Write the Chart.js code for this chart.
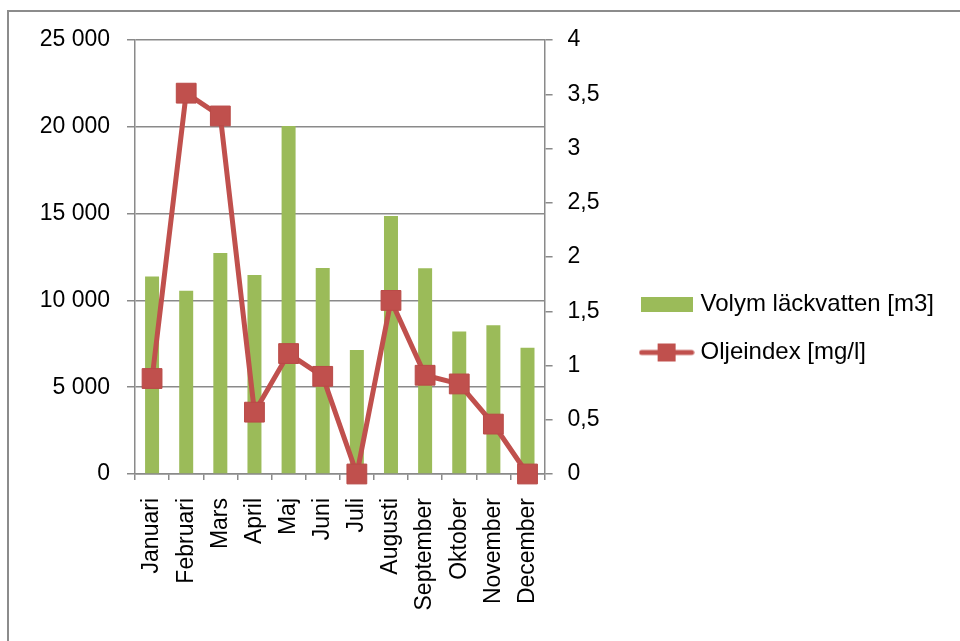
<!DOCTYPE html>
<html>
<head>
<meta charset="utf-8">
<script src="https://cdn.jsdelivr.net/npm/chart.js@4"></script>
<style>
  body { margin: 0; background: #fff; overflow: hidden; }
  .frame { position: absolute; left: 7px; top: 10px; width: 1000px; height: 700px; border: 2px solid #8c8c8c; }
  #chart { position: absolute; left: 0; top: 0; }
</style>
</head>
<body>
<div class="frame"></div>
<canvas id="chart" width="960" height="641"></canvas>
<script>
// månader och mätvärden
const months = ['Januari', 'Februari', 'Mars', 'April', 'Maj', 'Juni', 'Juli', 'Augusti', 'September', 'Oktober', 'November', 'December'];
const volym = [11370, 10560, 12730, 11470, 20050, 11870, 7140, 14860, 11850, 8210, 8570, 7270];
const oljeindex = [0.88, 3.51, 3.30, 0.57, 1.11, 0.90, 0, 1.60, 0.91, 0.83, 0.46, 0];

const green = '#9bbb59';
const red = '#c0504d';
const grey = '#8a8a8a';

Chart.defaults.font.family = "'Liberation Sans', Arial, sans-serif";
Chart.defaults.color = '#000';

// legend-ikoner
function barIcon() {
    const c = document.createElement('canvas');
    c.width = 52; c.height = 15;
    const g = c.getContext('2d');
    g.fillStyle = green;
    g.fillRect(0, 0, 52, 15);
    return c;
}
function lineIcon() {
    const c = document.createElement('canvas');
    c.width = 56; c.height = 20;
    const g = c.getContext('2d');
    g.strokeStyle = red;
    g.lineWidth = 5;
    g.lineCap = 'round';
    g.beginPath(); g.moveTo(3, 10); g.lineTo(53, 10); g.stroke();
    g.fillStyle = red;
    g.fillRect(19, 1, 18, 18);
    return c;
}
const icons = [barIcon(), lineIcon()];

new Chart(document.getElementById('chart'), {
    data: {
        labels: months,
        datasets: [{
            type: 'bar',
            label: 'Volym läckvatten [m3]',
            data: volym,
            backgroundColor: green,
            barPercentage: 0.41,
            categoryPercentage: 1,
            yAxisID: 'y',
            order: 2
        }, {
            type: 'line',
            label: 'Oljeindex [mg/l]',
            data: oljeindex,
            borderColor: red,
            borderWidth: 5,
            pointStyle: 'rect',
            pointRadius: 14,
            pointBackgroundColor: red,
            pointBorderColor: '#b94a47',
            pointBorderWidth: 1,
            tension: 0,
            clip: false,
            yAxisID: 'y1',
            order: 1
        }]
    },
    options: {
        responsive: false,
        animation: false,
        layout: { padding: { top: 40, left: 0, right: 16, bottom: 24 } },
        plugins: {
            tooltip: { enabled: false },
            legend: {
                position: 'right',
                maxWidth: 400,
                labels: {
                    usePointStyle: true,
                    pointStyleWidth: 44,
                    boxHeight: 20,
                    padding: 24,
                    font: { size: 24 },
                    sort: (a, b) => a.datasetIndex - b.datasetIndex,
                    generateLabels(chart) {
                        const items = Chart.defaults.plugins.legend.labels.generateLabels(chart);
                        items.forEach(it => { it.pointStyle = icons[it.datasetIndex]; });
                        return items;
                    }
                }
            }
        },
        scales: {
            x: {
                offset: true,
                grid: { display: true, drawOnChartArea: false, tickLength: 6, color: grey, lineWidth: 1.5 },
                border: { display: true, color: grey, width: 1.5 },
                ticks: { minRotation: 90, maxRotation: 90, padding: 18, font: { size: 23 }, autoSkip: false },
                afterFit(scale) { scale.height = 641 - 24 - 474; }
            },
            y: {
                position: 'left',
                min: 0,
                max: 25000,
                ticks: {
                    stepSize: 5000,
                    padding: 17,
                    font: { size: 23 },
                    callback: v => String(v).replace(/\B(?=(\d{3})+(?!\d))/g, ' ')
                },
                grid: { color: grey, lineWidth: 1.5, tickLength: 8 },
                border: { display: true, color: grey, width: 1.5 },
                afterFit(scale) { scale.width = 135; }
            },
            y1: {
                position: 'right',
                min: 0,
                max: 4,
                ticks: {
                    stepSize: 0.5,
                    padding: 15,
                    font: { size: 23 },
                    callback: v => String(v).replace('.', ',')
                },
                grid: { drawOnChartArea: false, color: grey, lineWidth: 1.5, tickLength: 8 },
                border: { display: true, color: grey, width: 1.5 },
                afterFit(scale) { scale.width = 76; }
            }
        }
    }
});
</script>
</body>
</html>
